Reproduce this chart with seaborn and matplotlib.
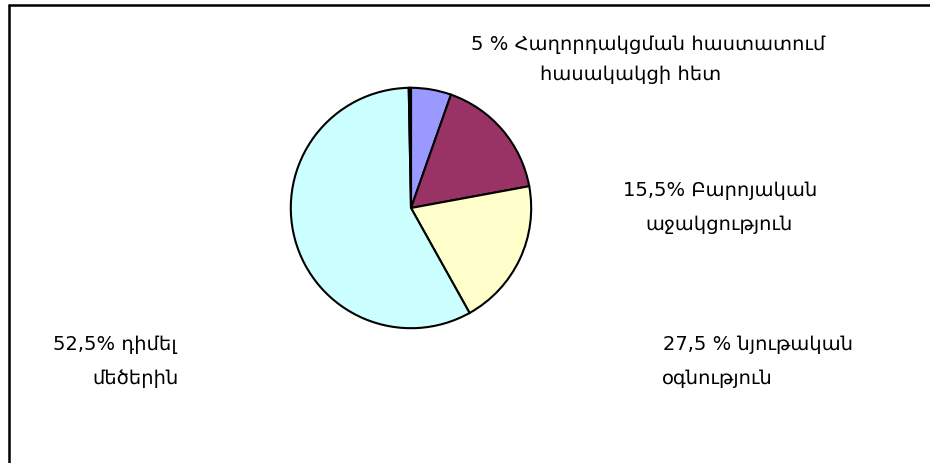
import matplotlib
matplotlib.use('Agg')
import matplotlib.pyplot as plt
from matplotlib.lines import Line2D
import seaborn as sns

# 데이터 (pie slices, clockwise from top)
slice_values = [5.4, 16.7, 19.8, 57.8, 0.3]
slice_colors = ['#9999FF', '#993366', '#FFFFCC', '#CCFFFF', '#000000']

# labels (each line separately, placed as in the original)
label_lines = [
    '5 % Հաղորդակցման հաստատում', 'հասակակցի հետ',
    '15,5% Բարոյական', 'աջակցություն',
    '27,5 % նյութական', 'օգնություն',
    '52,5% դիմել', 'մեծերին',
]
label_px = [(471, 44), (540, 75), (623, 190), (645, 225),
            (663, 345), (662, 378), (53, 345), (92, 378)]

sns.set_theme(style='white')
plt.rcParams['font.family'] = ['DejaVu Sans']

W, H = 930, 463
fig = plt.figure(figsize=(W / 100, H / 100), dpi=100)
fig.patch.set_facecolor('white')

# pie axes, center (411, 208) px, radius 122 px
cx, cy, r = 411, 208, 122
ax = fig.add_axes([(cx - r) / W, (H - cy - r) / H, 2 * r / W, 2 * r / H])
ax.pie(slice_values, colors=slice_colors, startangle=90, counterclock=False,
       wedgeprops=dict(edgecolor='black', linewidth=1.5))
ax.set_xlim(-1.015, 1.015)
ax.set_ylim(-1.015, 1.015)
ax.set_aspect('equal')
ax.axis('off')

for txt, (px, py) in zip(label_lines, label_px):
    fig.text(px / W, 1 - py / H, txt, ha='left', va='center',
             fontsize=14, color='black')

# frame (only top and left edges visible)
fig.add_artist(Line2D([9 / W, 1], [1 - 5 / H, 1 - 5 / H], color='black', lw=1.8,
                      transform=fig.transFigure))
fig.add_artist(Line2D([9 / W, 9 / W], [0, 1 - 5 / H], color='black', lw=1.8,
                      transform=fig.transFigure))

fig.savefig('out.png', dpi=100, facecolor='white')
